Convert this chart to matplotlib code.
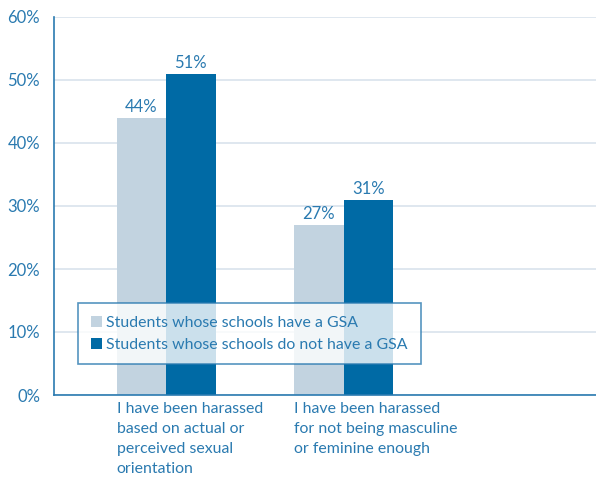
import numpy as np
import matplotlib.pyplot as plt
from matplotlib.ticker import FuncFormatter

plt.rcParams['font.family'] = ['Lato', 'DejaVu Sans']

categories = [
    "I have been harassed\nbased on actual or\nperceived sexual\norientation",
    "I have been harassed\nfor not being masculine\nor feminine enough",
]
series_names = [
    "Students whose schools have a GSA",
    "Students whose schools do not have a GSA",
]
with_gsa = [44, 27]
without_gsa = [51, 31]

light = "#c2d3e0"
dark = "#006aa5"
txt = "#2a7ab0"
grid = "#d9e3ec"

fig = plt.figure(figsize=(5.96, 4.79), dpi=100)
ax = fig.add_axes([54 / 596, 1 - 395 / 479, 1 - 54 / 596, (395 - 17) / 479])

x = np.arange(len(categories))
w = 0.279
b1 = ax.bar(x - w / 2, with_gsa, w, color=light, label=series_names[0], zorder=2)
b2 = ax.bar(x + w / 2, without_gsa, w, color=dark, label=series_names[1], zorder=2)

# value labels above each bar
for bars, vals in ((b1, with_gsa), (b2, without_gsa)):
    for r, v in zip(bars, vals):
        ax.text(r.get_x() + r.get_width() / 2, v + 0.5, f"{v}%", ha="center",
                va="bottom", color=txt, fontsize=12)

ax.set_ylim(0, 60)
ax.set_yticks(range(0, 61, 10))
ax.yaxis.set_major_formatter(FuncFormatter(lambda v, p: f"{v:.0f}%"))
ax.set_xlim(-0.631, 2.42)
ax.set_xticks([])
ax.grid(axis="y", color=grid, linewidth=1.2, zorder=0)
ax.tick_params(axis="y", length=0, pad=10, labelcolor=txt, labelsize=12)

for s in ("top", "right"):
    ax.spines[s].set_visible(False)
ax.spines["left"].set_color(txt)
ax.spines["bottom"].set_color(txt)
ax.spines["left"].set_linewidth(1.2)
ax.spines["bottom"].set_linewidth(1.2)

# category labels, left-aligned under each group
for xi, label in zip(x, categories):
    ax.annotate(label, xy=(xi - w, 0), xycoords="data", xytext=(0, -5),
                textcoords="offset points", ha="left", va="top",
                color=txt, fontsize=11.4, linespacing=1.55)

leg = fig.legend(handles=[b1, b2], loc="upper left",
                 bbox_to_anchor=(78 / 596, 1 - 303 / 479),
                 frameon=True, fancybox=False, fontsize=11.4,
                 handlelength=0.7, handleheight=0.7, handletextpad=0.3,
                 borderpad=0.8, labelspacing=0.5, borderaxespad=0)
leg.get_frame().set_edgecolor(txt)
leg.get_frame().set_linewidth(1.2)
for t in leg.get_texts():
    t.set_color(txt)

fig.savefig("out.png", dpi=100)
